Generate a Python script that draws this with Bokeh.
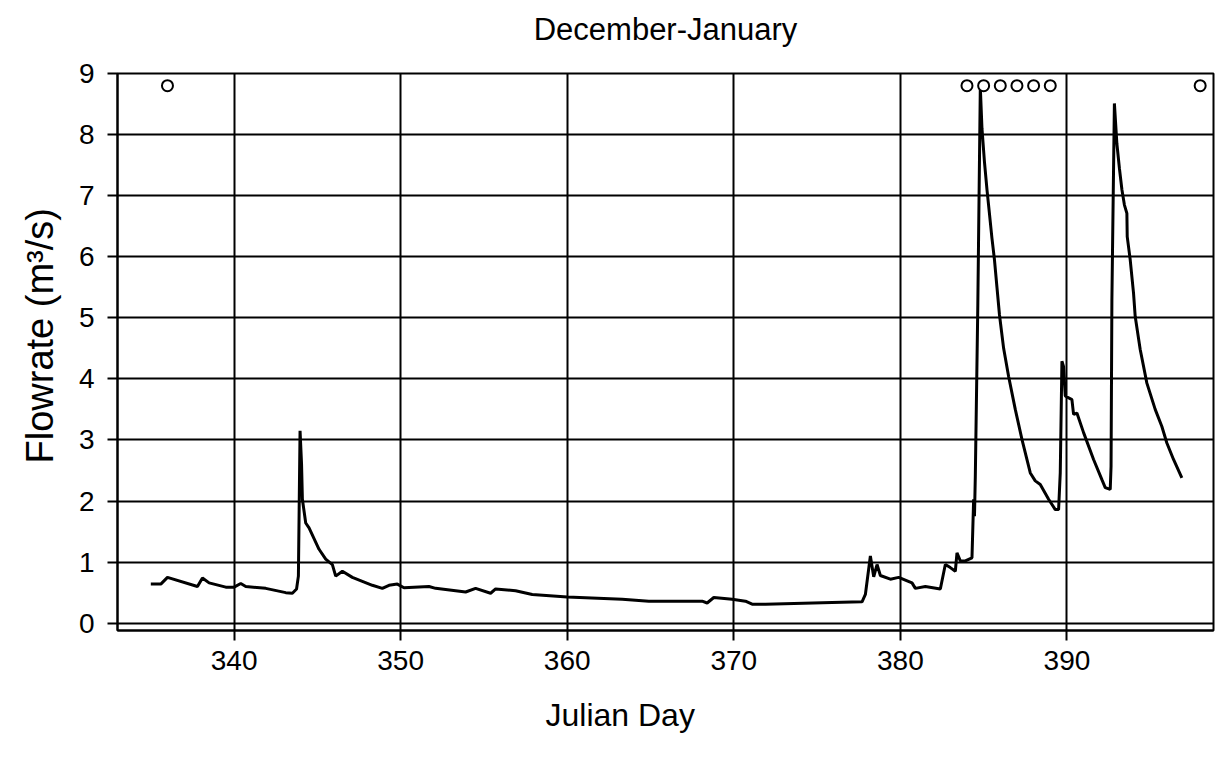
from bokeh.plotting import figure
from bokeh.models import Range1d, FixedTicker, Title
from bokeh.embed import file_html
from bokeh.resources import INLINE

# Julian day and flowrate (m3/s) of the December-January record
day = [335.0, 335.6, 336.0, 337.8, 338.1, 338.5, 339.5, 340.0, 340.4, 340.7,
       341.9, 343.1, 343.5, 343.75, 343.86, 343.96, 344.05, 344.1, 344.3, 344.5,
       345.1, 345.5, 345.9, 346.1, 346.5, 347.1, 348.3, 348.9, 349.3, 349.8,
       350.2, 351.7, 352.1, 353.9, 354.5, 355.4, 355.7, 356.9, 357.9, 360.0,
       363.3, 364.9, 368.1, 368.4, 368.8, 369.9, 370.7, 371.1, 371.9, 375.9,
       377.7, 377.9, 378.2, 378.4, 378.6, 378.8, 379.4, 379.9, 380.7, 380.9,
       381.5, 382.4, 382.7, 383.0, 383.3, 383.4, 383.6, 383.9, 384.3, 384.4,
       384.45, 384.5, 384.65, 384.8, 384.9, 385.05, 385.2, 385.35, 385.5, 385.65,
       385.8, 385.95, 386.2, 386.5, 386.9, 387.3, 387.8, 388.1, 388.4, 388.9,
       389.3, 389.5, 389.6, 389.7, 389.8, 389.9, 390.3, 390.4, 390.6, 391.0,
       391.6, 392.1, 392.3, 392.6, 392.65, 392.7, 392.85, 393.0, 393.15, 393.3,
       393.45, 393.6, 393.62, 393.8, 394.0, 394.1, 394.4, 394.8, 395.3, 395.7,
       396.0, 396.4, 396.9]
flow = [0.64, 0.64, 0.75, 0.60, 0.74, 0.66, 0.59, 0.59, 0.65, 0.60,
        0.57, 0.50, 0.49, 0.56, 0.77, 3.15, 2.60, 2.03, 1.64, 1.56,
        1.21, 1.05, 0.96, 0.77, 0.85, 0.75, 0.62, 0.57, 0.62, 0.64,
        0.58, 0.60, 0.57, 0.51, 0.57, 0.49, 0.56, 0.53, 0.47, 0.43,
        0.39, 0.36, 0.36, 0.33, 0.42, 0.39, 0.36, 0.31, 0.31, 0.34,
        0.35, 0.47, 1.10, 0.76, 0.96, 0.78, 0.72, 0.75, 0.66, 0.57,
        0.60, 0.56, 0.96, 0.91, 0.85, 1.15, 1.02, 1.02, 1.07, 2.03,
        1.75, 2.40, 5.20, 8.78, 8.10, 7.55, 7.10, 6.70, 6.30, 5.95,
        5.50, 5.05, 4.50, 4.04, 3.50, 3.01, 2.46, 2.33, 2.27, 2.03,
        1.86, 1.86, 2.46, 4.29, 4.20, 3.72, 3.66, 3.42, 3.44, 3.12,
        2.68, 2.35, 2.22, 2.19, 2.57, 5.30, 8.51, 7.85, 7.45, 7.10,
        6.85, 6.71, 6.33, 5.95, 5.40, 5.02, 4.48, 3.93, 3.50, 3.22,
        2.95, 2.68, 2.38]

# event markers along the top of the chart
event_day = [336, 384, 385, 386, 387, 388, 389, 398]
event_level = [8.8, 8.8, 8.8, 8.8, 8.8, 8.8, 8.8, 8.8]

x_ticks = [340, 350, 360, 370, 380, 390]
y_ticks = [0, 1, 2, 3, 4, 5, 6, 7, 8, 9]

FONT = "Liberation Sans"

p = figure(width=1215, height=760, output_backend="svg", toolbar_location=None,
           x_range=Range1d(333, 398.8), y_range=Range1d(-0.12, 9),
           min_border_left=117, min_border_right=2, min_border_top=73,
           min_border_bottom=130)

p.title.text = "December-January"
p.title.align = "center"
p.title.vertical_align = "top"
p.title.text_font = FONT
p.title.text_font_size = "31px"
p.title.text_font_style = "normal"
p.title.text_color = "black"
p.title.standoff = 18

# blank band between the plot frame and the title
p.add_layout(Title(text=" ", text_font_size="1px", standoff=13), "above")

p.outline_line_color = "black"
p.outline_line_width = 2

for ax in (p.xaxis[0], p.yaxis[0]):
    ax.axis_line_color = "black"
    ax.axis_line_width = 2
    ax.major_tick_line_color = "black"
    ax.major_tick_line_width = 2
    ax.major_tick_out = 10
    ax.major_tick_in = 0
    ax.minor_tick_line_color = None
    ax.major_label_text_font = FONT
    ax.major_label_text_font_size = "28px"
    ax.major_label_text_color = "black"

p.xaxis.ticker = FixedTicker(ticks=x_ticks)
p.yaxis.ticker = FixedTicker(ticks=y_ticks)
p.xaxis.major_label_standoff = 10
p.yaxis.major_label_standoff = 13

p.xgrid.grid_line_color = "black"
p.xgrid.grid_line_width = 2
p.ygrid.grid_line_color = "black"
p.ygrid.grid_line_width = 2

p.line(day, flow, line_color="black", line_width=3)
p.scatter(event_day, event_level, marker="circle", size=11,
          fill_color="white", line_color="black", line_width=2)

# axis titles, each placed a little off the axis centre
p.add_layout(Title(text="Julian Day", align="left", offset=428,
                   text_font=FONT, text_font_size="32px",
                   text_font_style="normal", text_color="black",
                   standoff=44), "below")
p.add_layout(Title(text="Flowrate (m\u00b3/s)", align="left", offset=167,
                   text_font=FONT, text_font_size="38px",
                   text_font_style="normal", text_color="black",
                   standoff=30), "left")

open("out.html", "w").write(file_html(p, INLINE))
